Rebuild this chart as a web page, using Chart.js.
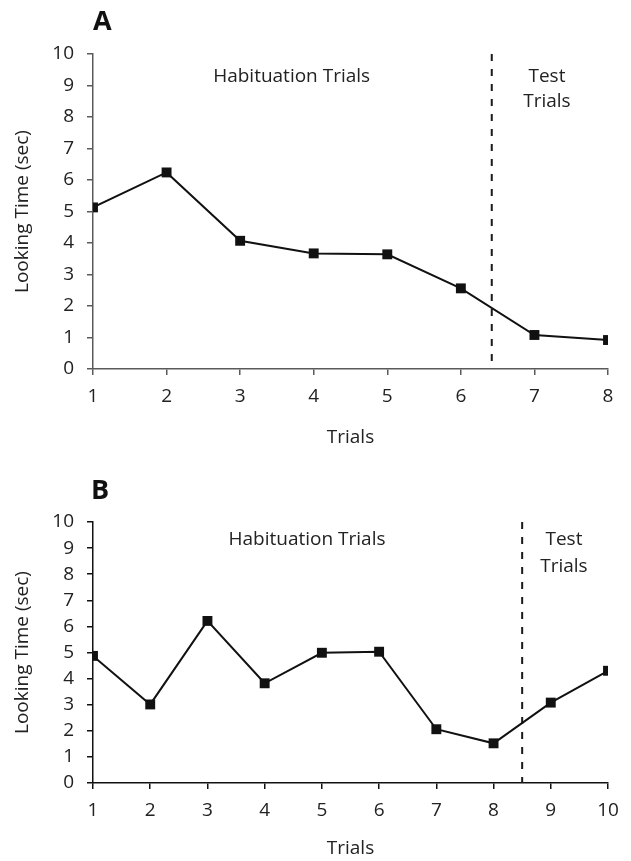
<!DOCTYPE html>
<html>
<head>
<meta charset="utf-8">
<script src="https://cdn.jsdelivr.net/npm/chart.js@4.4.0/dist/chart.umd.min.js"></script>
<style>
  html, body { margin: 0; padding: 0; background: #fff; }
  .panel { position: relative; width: 631px; }
  .tag { position: absolute; font: bold 27px "Open Sans", sans-serif; color: #111; }
</style>
</head>
<body>
<div class="panel" style="height:450px">
  <span class="tag" style="left:93px; top:1px">A</span>
  <canvas id="chart-a"></canvas>
</div>
<div class="panel" style="height:411px">
  <span class="tag" style="left:91px; top:20px">B</span>
  <canvas id="chart-b"></canvas>
</div>
<script>
// panel A
const trialsA = [1, 2, 3, 4, 5, 6, 7, 8]
const lookingA = [5.13, 6.24, 4.07, 3.67, 3.64, 2.56, 1.08, 0.92]
const dividerA = 6.42

// panel B
const trialsB = [1, 2, 3, 4, 5, 6, 7, 8, 9, 10]
const lookingB = [4.87, 3.01, 6.21, 3.82, 4.99, 5.03, 2.06, 1.52, 3.08, 4.30]
const dividerB = 8.5

const yMin = 0
const yMax = 10

const fontFamily = '"Open Sans", sans-serif'
const fontSize = 19
const textFont = fontSize + 'px ' + fontFamily
const textColor = '#222'

// dashed divider + the two region labels, placed in data coordinates
const trialNotes = {
    id: 'trialNotes',
    beforeDatasetsDraw(chart, args, opts) {
        const {ctx, scales: {x, y}} = chart
        const px = x.getPixelForValue(opts.divider)
        ctx.save()
        ctx.strokeStyle = '#1a1a1a'
        ctx.lineWidth = 2
        ctx.setLineDash([7, 8])
        ctx.beginPath()
        ctx.moveTo(px, y.getPixelForValue(yMax))
        ctx.lineTo(px, y.getPixelForValue(yMin))
        ctx.stroke()
        ctx.restore()
    },
    afterDatasetsDraw(chart, args, opts) {
        const {ctx, scales: {x, y}} = chart
        ctx.save()
        ctx.font = textFont
        ctx.fillStyle = textColor
        ctx.textAlign = 'center'
        ctx.textBaseline = 'middle'
        for (const note of opts.notes) {
            const px = x.getPixelForValue(note.x)
            const py = y.getPixelForValue(note.y)
            note.lines.forEach((line, i) => ctx.fillText(line, px, py + i * opts.lineGap))
        }
        ctx.restore()
    }
}

function makeChart(id, trials, looking, divider, notes, lineGap, axisColor, topPad, xHeight) {
    const points = trials.map((t, i) => ({x: t, y: looking[i]}))
    const tickFont = {family: fontFamily, size: fontSize}

    new Chart(document.getElementById(id), {
        type: 'line',
        data: {
            datasets: [{
                data: points,
                borderColor: '#111',
                borderWidth: 2,
                pointStyle: 'rect',
                pointRadius: 7,
                pointBackgroundColor: '#111',
                pointBorderColor: '#111',
                pointBorderWidth: 0,
                tension: 0
            }]
        },
        options: {
            responsive: true,
            maintainAspectRatio: false,
            animation: false,
            layout: {padding: {top: topPad, right: 23, left: 0, bottom: 0}},
            plugins: {
                legend: {display: false},
                tooltip: {enabled: false},
                trialNotes: {divider, notes, lineGap}
            },
            scales: {
                x: {
                    type: 'linear',
                    min: trials[0],
                    max: trials[trials.length - 1],
                    afterFit: scale => { scale.height = xHeight },
                    ticks: {stepSize: 1, color: textColor, font: tickFont, padding: 10},
                    grid: {drawOnChartArea: false, drawTicks: true, tickLength: 6, color: axisColor, lineWidth: 1.5},
                    border: {display: true, color: axisColor, width: 1.5},
                    title: {display: true, text: 'Trials', color: textColor, font: tickFont, padding: {top: 0, bottom: 1}}
                },
                y: {
                    min: yMin,
                    max: yMax,
                    afterFit: scale => { scale.width = 93 },
                    ticks: {stepSize: 1, color: textColor, font: tickFont, padding: 13},
                    grid: {drawOnChartArea: false, drawTicks: true, tickLength: 6, color: axisColor, lineWidth: 1.5},
                    border: {display: true, color: axisColor, width: 1.5},
                    title: {display: true, text: 'Looking Time (sec)', color: textColor, font: tickFont, padding: {top: 11, bottom: 0}}
                }
            }
        },
        plugins: [trialNotes]
    })
}

makeChart('chart-a', trialsA, lookingA, dividerA, [
    {x: 3.7, y: 9.27, lines: ['Habituation Trials']},
    {x: 7.17, y: 9.27, lines: ['Test', 'Trials']}
], 25, '#5a5a5a', 54, 81)

makeChart('chart-b', trialsB, lookingB, dividerB, [
    {x: 4.74, y: 9.31, lines: ['Habituation Trials']},
    {x: 9.23, y: 9.31, lines: ['Test', 'Trials']}
], 27, '#111', 72, 78)
</script>
</body>
</html>
